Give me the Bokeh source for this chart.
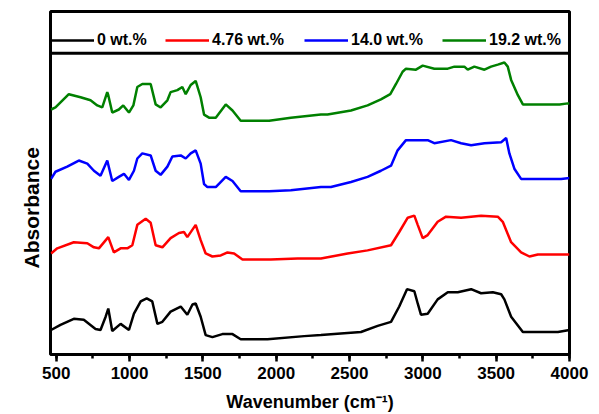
from bokeh.plotting import figure
from bokeh.models import (Range1d, Span, Legend, LegendItem, Title,
                          SingleIntervalTicker)
from bokeh.embed import file_html
from bokeh.resources import INLINE

# ---- data (wavenumber in cm-1, absorbance in arbitrary offset units) ----
wn_0 = [465, 529, 620, 688, 768, 802, 837, 855, 882, 939, 996, 1030, 1076, 1117,
        1155, 1190, 1224, 1280, 1349, 1394, 1429, 1451, 1485, 1519, 1565, 1633,
        1702, 1758, 1941, 2191, 2305, 2395, 2578, 2692, 2783, 2839, 2892, 2942,
        2965, 2987, 3033, 3101, 3170, 3238, 3329, 3397, 3477, 3534, 3556, 3602,
        3682, 3921, 4000]
ab_0 = [0.24, 0.29, 0.35, 0.34, 0.25, 0.24, 0.37, 0.45, 0.23, 0.30, 0.24, 0.40,
        0.52, 0.55, 0.52, 0.30, 0.32, 0.42, 0.47, 0.39, 0.49, 0.50, 0.37, 0.19,
        0.17, 0.20, 0.20, 0.15, 0.15, 0.18, 0.19, 0.20, 0.22, 0.28, 0.32, 0.47,
        0.64, 0.62, 0.50, 0.39, 0.40, 0.54, 0.61, 0.61, 0.64, 0.60, 0.61, 0.59,
        0.54, 0.37, 0.22, 0.22, 0.24]

wn_476 = [465, 507, 620, 712, 757, 791, 855, 893, 939, 985, 1019, 1053, 1110,
          1144, 1178, 1224, 1280, 1337, 1371, 1394, 1451, 1485, 1519, 1565, 1622,
          1668, 1713, 1770, 1963, 2146, 2305, 2487, 2623, 2783, 2839, 2897, 2942,
          2965, 2999, 3033, 3101, 3158, 3261, 3397, 3511, 3545, 3602, 3670, 3727,
          3784, 4000]
ab_476 = [0.99, 1.04, 1.10, 1.09, 1.05, 1.04, 1.15, 1.00, 1.04, 1.04, 1.07, 1.27,
          1.33, 1.29, 1.07, 1.05, 1.14, 1.19, 1.20, 1.15, 1.27, 1.12, 0.99, 0.96,
          0.97, 1.00, 0.99, 0.93, 0.93, 0.94, 0.94, 0.99, 1.02, 1.07, 1.20, 1.34,
          1.36, 1.27, 1.14, 1.17, 1.30, 1.35, 1.34, 1.36, 1.35, 1.30, 1.10, 1.00,
          0.96, 0.98, 0.98]

wn_140 = [465, 495, 575, 654, 712, 757, 802, 848, 882, 927, 962, 996, 1030, 1053,
          1087, 1144, 1178, 1212, 1258, 1292, 1349, 1383, 1417, 1451, 1485, 1508,
          1531, 1588, 1656, 1702, 1758, 1952, 2100, 2305, 2373, 2510, 2623, 2714,
          2783, 2828, 2885, 3033, 3078, 3192, 3261, 3329, 3420, 3534, 3568, 3590,
          3624, 3670, 3943, 4000]
ab_140 = [1.72, 1.79, 1.84, 1.90, 1.87, 1.80, 1.75, 1.90, 1.70, 1.74, 1.77, 1.71,
          1.80, 1.92, 1.97, 1.95, 1.80, 1.76, 1.84, 1.94, 1.95, 1.92, 1.97, 2.00,
          1.87, 1.67, 1.64, 1.64, 1.74, 1.70, 1.60, 1.60, 1.61, 1.64, 1.64, 1.69,
          1.74, 1.80, 1.85, 2.00, 2.10, 2.10, 2.07, 2.10, 2.07, 2.05, 2.07, 2.08,
          2.12, 1.97, 1.82, 1.72, 1.72, 1.73]

wn_192 = [465, 495, 586, 666, 734, 780, 814, 848, 855, 882, 927, 957, 996, 1026,
          1053, 1087, 1144, 1178, 1212, 1258, 1280, 1326, 1360, 1383, 1417, 1451,
          1485, 1508, 1542, 1588, 1656, 1702, 1758, 1952, 2100, 2305, 2350, 2510,
          2623, 2714, 2778, 2817, 2862, 2885, 2953, 2999, 3078, 3170, 3215, 3283,
          3306, 3351, 3420, 3465, 3511, 3556, 3579, 3602, 3648, 3682, 3761, 3932,
          3989, 4000]
ab_192 = [2.40, 2.42, 2.55, 2.52, 2.49, 2.44, 2.42, 2.57, 2.54, 2.37, 2.40, 2.44,
          2.37, 2.44, 2.62, 2.65, 2.65, 2.45, 2.42, 2.49, 2.57, 2.59, 2.62, 2.55,
          2.64, 2.68, 2.52, 2.35, 2.32, 2.32, 2.45, 2.39, 2.29, 2.29, 2.32, 2.35,
          2.35, 2.39, 2.44, 2.50, 2.55, 2.65, 2.77, 2.80, 2.79, 2.83, 2.80, 2.80,
          2.82, 2.82, 2.79, 2.82, 2.79, 2.82, 2.84, 2.86, 2.82, 2.69, 2.54, 2.45,
          2.45, 2.45, 2.46, 2.46]

series_names = ["0 wt.%", "4.76 wt.%", "14.0 wt.%", "19.2 wt.%"]
series_colors = ["#000000", "#ff0000", "#0000ff", "#008000"]
series_x = [wn_0, wn_476, wn_140, wn_192]
series_y = [ab_0, ab_476, ab_140, ab_192]

x_label = "Wavenumber (cm\u207b\u00b9)"
y_label = "Absorbance"

FONT = "Liberation Sans"

p = figure(width=599, height=414, output_backend="svg", toolbar_location=None,
           x_range=Range1d(461, 4000), y_range=Range1d(0, 3.36),
           min_border_left=50, min_border_right=30, min_border_top=11,
           min_border_bottom=40)

p.background_fill_color = "white"
p.border_fill_color = "white"
p.outline_line_color = "black"
p.outline_line_width = 3
p.xgrid.visible = False
p.ygrid.visible = False
p.yaxis.visible = False

ax = p.xaxis[0]
ax.ticker = SingleIntervalTicker(interval=500, num_minor_ticks=2)
ax.axis_line_color = None
ax.major_tick_in = 0
ax.major_tick_out = 7
ax.minor_tick_in = 0
ax.minor_tick_out = 4
ax.major_tick_line_width = 2.5
ax.minor_tick_line_width = 2.5
ax.major_tick_line_color = "black"
ax.minor_tick_line_color = "black"
ax.major_label_text_font = FONT
ax.major_label_text_font_style = "bold"
ax.major_label_text_font_size = "17px"
ax.major_label_text_color = "black"
ax.major_label_standoff = 5
ax.axis_label = x_label
ax.axis_label_text_font = FONT
ax.axis_label_text_font_style = "bold"
ax.axis_label_text_font_size = "18px"
ax.axis_label_text_color = "black"
ax.axis_label_standoff = 10

renderers = []
for xs, ys, c in zip(series_x, series_y, series_colors):
    r = p.line(xs, ys, line_color=c, line_width=2.5)
    renderers.append(r)

# separator between legend band and spectra
p.add_layout(Span(location=2.95, dimension="width", line_color="black",
                  line_width=3))

legend_x = [0, 115, 254, 392]
for name, r, lx in zip(series_names, renderers, legend_x):
    lg = Legend(items=[LegendItem(label=name, renderers=[r])],
                location=(lx, 304), padding=0, margin=0, spacing=0,
                glyph_width=44, glyph_height=20, label_height=20,
                label_standoff=3, border_line_color=None,
                background_fill_alpha=0,
                label_text_font=FONT, label_text_font_style="bold",
                label_text_font_size="16px", label_text_color="black")
    p.add_layout(lg)

p.add_layout(Title(text=y_label, align="left", offset=86, standoff=16,
                   text_font=FONT, text_font_style="bold",
                   text_font_size="21px", text_color="black"), "left")

open("out.html", "w").write(file_html(p, INLINE))
